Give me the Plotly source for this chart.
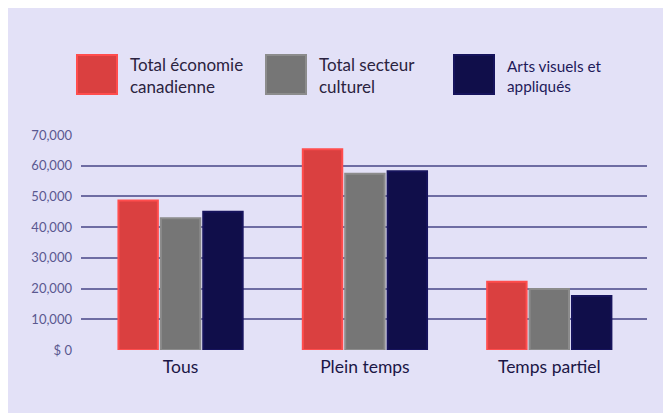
import plotly.graph_objects as go

# data
categories = ["Tous", "Plein temps", "Temps partiel"]
series_names = ["Total économie<br>canadienne", "Total secteur<br>culturel", "Arts visuels et<br>appliqués"]
economie = [48700, 65400, 22200]
culturel = [42900, 57400, 19900]
arts_visuels = [45000, 58200, 17600]
tick_vals = [0, 10000, 20000, 30000, 40000, 50000, 60000, 70000]
tick_text = ["$ 0", "10,000", "20,000", "30,000", "40,000", "50,000", "60,000", "70,000"]

fills = ["#DA4040", "#767676", "#100E4A"]
edges = ["#FF4D4D", "#8C8C8C", "#16135C"]
text_colors = ["#2B2340", "#2B2340", "#1E1A5A"]
text_sizes = [17, 17, 15.3]

BG = "#E3E1F7"
W, H = 671, 413
# page offset of the figure inside the browser window
OX, OY = 8, 8
ML, MR, MT, MB = 73, 32, 127, 71
PW, PH = W - ML - MR, H - MT - MB


def px(x):
    # screen x -> paper x
    return (x - OX - ML) / PW


def py(y):
    # screen y -> paper y
    return (H - MB - (y - OY)) / PH


fig = go.Figure()
for name, vals, fill, edge in zip(series_names, [economie, culturel, arts_visuels], fills, edges):
    fig.add_trace(go.Bar(
        x=categories, y=vals, name=name,
        marker=dict(color=fill, line=dict(color=edge, width=2)),
        showlegend=False,
    ))

# custom legend with large swatches
swatch_x = [77, 266, 454]
for i, (name, fill, edge) in enumerate(zip(series_names, fills, edges)):
    x0 = swatch_x[i]
    fig.add_shape(type="rect", xref="paper", yref="paper",
                  x0=px(x0), x1=px(x0 + 40), y0=py(94), y1=py(55),
                  fillcolor=fill, line=dict(color=edge, width=2), layer="above")
    fig.add_annotation(xref="paper", yref="paper", x=px(x0 + 51), y=py(75.5),
                       xanchor="left", yanchor="middle", align="left", showarrow=False,
                       text=name, font=dict(family="Lato", size=text_sizes[i], color=text_colors[i]))

fig.update_layout(
    width=W, height=H,
    margin=dict(l=ML, r=MR, t=MT, b=MB),
    paper_bgcolor=BG, plot_bgcolor=BG,
    barmode="group", bargap=0.31, bargroupgap=0.07,
    font=dict(family="Lato", color="#4A4878"),
)
fig.update_xaxes(
    range=[-0.54, 2.53],
    showgrid=False, showline=False, zeroline=False,
    tickfont=dict(size=17.5, color="#1B1646"), ticks="", ticklabelstandoff=4,
)
fig.update_yaxes(
    range=[0, 70000], tickvals=tick_vals, ticktext=tick_text,
    showgrid=True, gridcolor="#6E6CA3", gridwidth=1.5,
    zeroline=False, showline=False, ticks="",
    tickfont=dict(size=13, color="#5A5890"), ticklabelstandoff=8,
)

fig.write_html("out.html")
